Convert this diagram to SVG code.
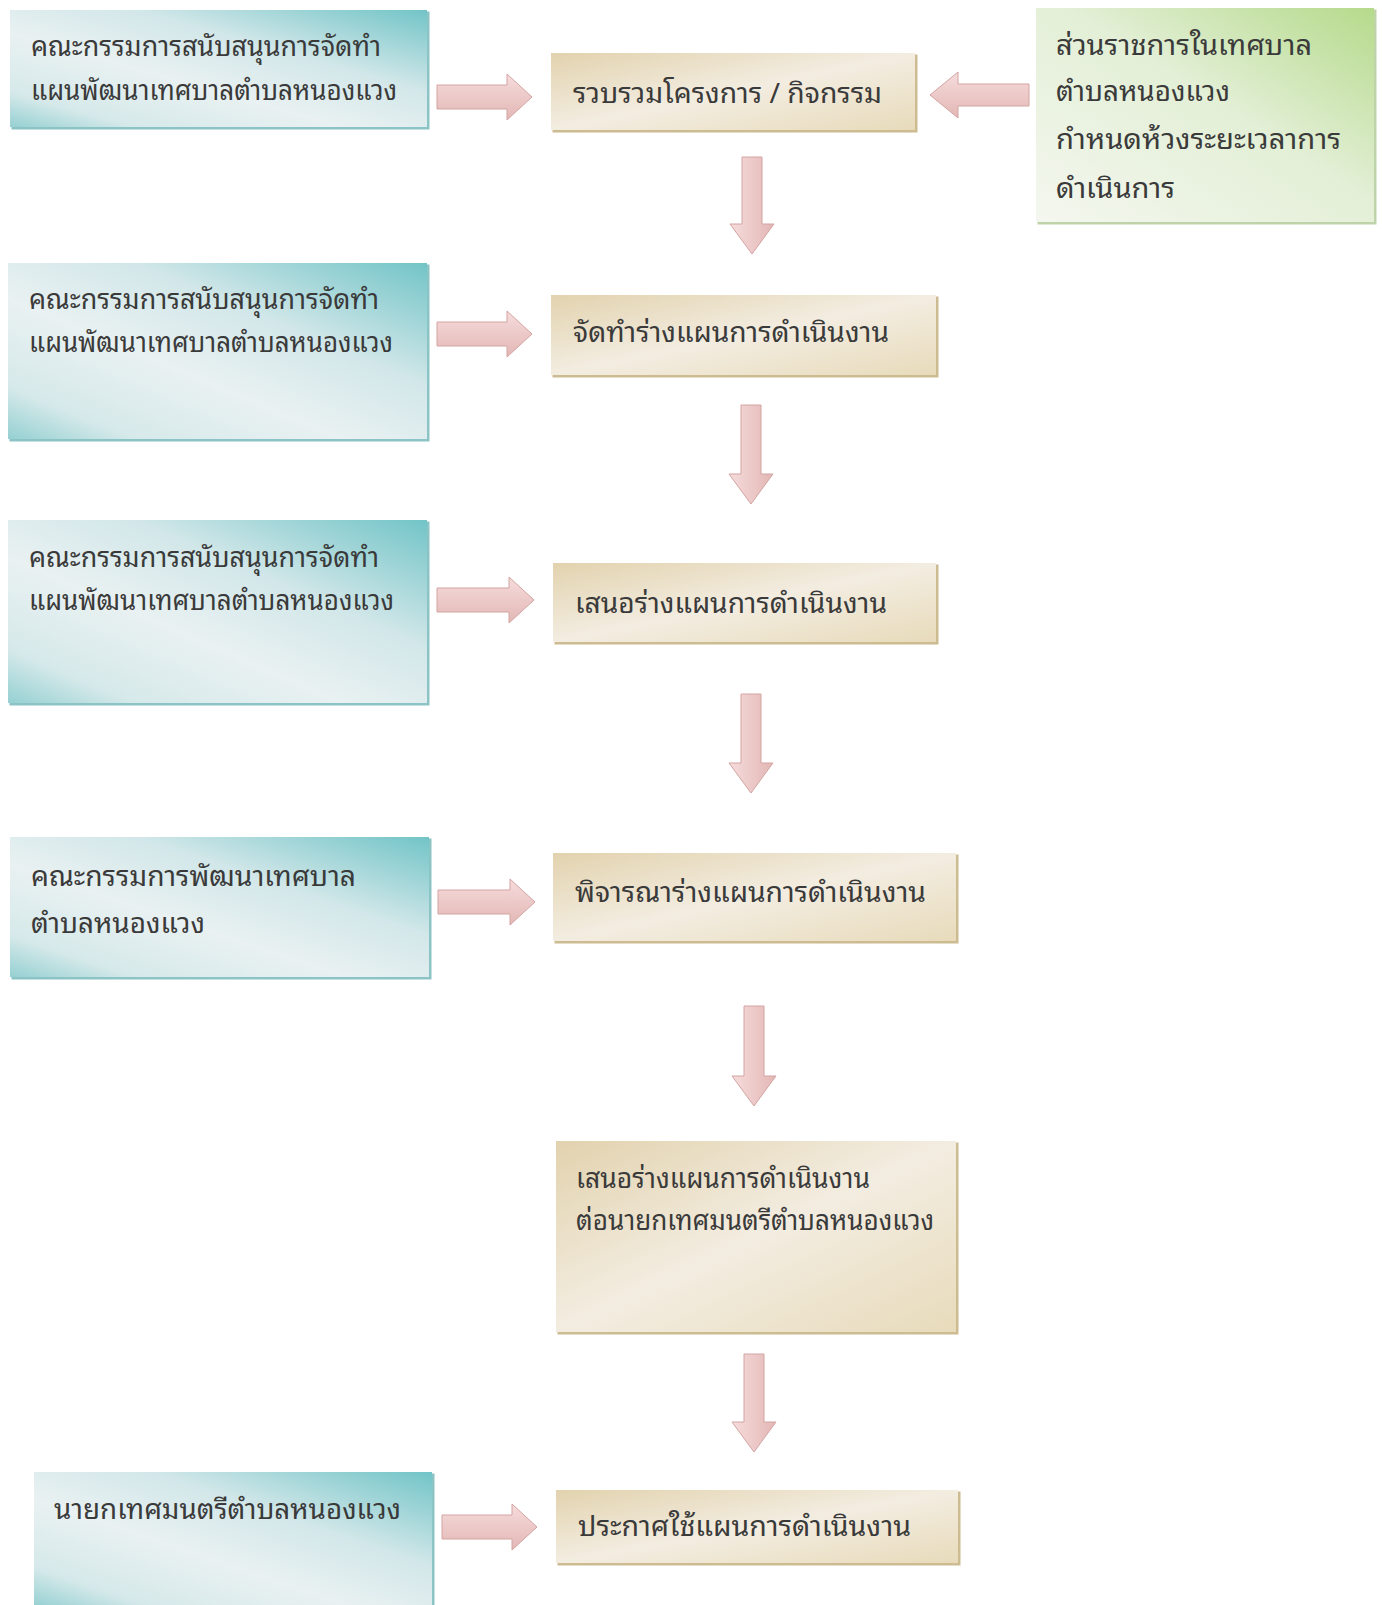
<svg xmlns="http://www.w3.org/2000/svg" width="1382" height="1605" viewBox="0 0 1382 1605">
<defs>
<linearGradient id="gBlue" x1="1" y1="0" x2="0" y2="1">
<stop offset="0" stop-color="#72c4c7"/>
<stop offset="0.35" stop-color="#d2e7e9"/>
<stop offset="0.6" stop-color="#e9f1f2"/>
<stop offset="0.85" stop-color="#d6e9ea"/>
<stop offset="1" stop-color="#95d0d2"/>
</linearGradient>
<linearGradient id="gTan" x1="0" y1="0" x2="1" y2="1">
<stop offset="0" stop-color="#e2d2ae"/>
<stop offset="0.5" stop-color="#f3ede1"/>
<stop offset="1" stop-color="#e8dbbb"/>
</linearGradient>
<linearGradient id="gGreen" x1="1" y1="0" x2="0" y2="1">
<stop offset="0" stop-color="#b5da8b"/>
<stop offset="0.45" stop-color="#e3efd6"/>
<stop offset="1" stop-color="#f4f7ef"/>
</linearGradient>
<linearGradient id="gArrowH" x1="0" y1="0" x2="0" y2="1">
<stop offset="0" stop-color="#f6dcdc"/>
<stop offset="1" stop-color="#e2b7b5"/>
</linearGradient>
<linearGradient id="gArrowV" x1="0" y1="0" x2="1" y2="0">
<stop offset="0" stop-color="#f6dcdc"/>
<stop offset="1" stop-color="#e2b7b5"/>
</linearGradient>
</defs>
<style>
.blue{fill:url(#gBlue)}
.tan{fill:url(#gTan)}
.green{fill:url(#gGreen)}
.shB{fill:#8cc4c6}
.shT{fill:#cdbb92}
.shG{fill:#bfd3aa}
.t{font-family:"Noto Sans Thai Looped","Noto Sans Thai","Noto Sans","Liberation Sans",sans-serif;font-size:28px;fill:#3a3a3a}
.ah{fill:url(#gArrowH);stroke:#d3a4a2;stroke-width:1}
.av{fill:url(#gArrowV);stroke:#d3a4a2;stroke-width:1}
</style>
<rect width="1382" height="1605" fill="#ffffff"/>

<g id="connectors">
<path class="ah" d="M437,85 H507 V74 L532,97 L507,120 V109 H437 Z"/>
<path class="ah" d="M1029,84 H958 V72 L930,95 L958,118 V106 H1029 Z"/>
<path class="av" d="M742,157 V224 H730 L752,254 L774,224 H762 V157 Z"/>
<path class="ah" d="M437,322 H507 V311 L532,334 L507,357 V346 H437 Z"/>
<path class="av" d="M741,405 V474 H729 L751,504 L773,474 H761 V405 Z"/>
<path class="ah" d="M437,588 H509 V577 L534,600 L509,623 V612 H437 Z"/>
<path class="av" d="M741,694 V763 H729 L751,793 L773,763 H761 V694 Z"/>
<path class="ah" d="M438,890 H510 V879 L535,902 L510,925 V914 H438 Z"/>
<path class="av" d="M744,1006 V1076 H732 L754,1106 L776,1076 H764 V1006 Z"/>
<path class="av" d="M744,1354 V1422 H732 L754,1452 L776,1422 H764 V1354 Z"/>
<path class="ah" d="M442,1515 H512 V1504 L537,1527 L512,1550 V1539 H442 Z"/>
</g>

<g id="nodeA1">
<rect class="shB" x="11.5" y="11.5" width="418" height="118"/>
<rect class="blue" x="10" y="10" width="417" height="117"/>
<text class="t" x="31" y="56" textLength="350" lengthAdjust="spacingAndGlyphs">คณะกรรมการสนับสนุนการจัดทำ</text>
<text class="t" x="31" y="100" textLength="366" lengthAdjust="spacingAndGlyphs">แผนพัฒนาเทศบาลตำบลหนองแวง</text>
</g>

<g id="nodeB1">
<rect class="shT" x="552.5" y="54.5" width="365" height="78"/>
<rect class="tan" x="551" y="53" width="364" height="77"/>
<text class="t" x="573" y="103" textLength="309" lengthAdjust="spacingAndGlyphs">รวบรวมโครงการ / กิจกรรม</text>
</g>

<g id="nodeG">
<rect class="shG" x="1037.5" y="9.5" width="339" height="215"/>
<rect class="green" x="1036" y="8" width="338" height="214"/>
<text class="t" x="1056" y="55" textLength="256" lengthAdjust="spacingAndGlyphs">ส่วนราชการในเทศบาล</text>
<text class="t" x="1056" y="101" textLength="174" lengthAdjust="spacingAndGlyphs">ตำบลหนองแวง</text>
<text class="t" x="1056" y="149" textLength="285" lengthAdjust="spacingAndGlyphs">กำหนดห้วงระยะเวลาการ</text>
<text class="t" x="1056" y="198" textLength="119" lengthAdjust="spacingAndGlyphs">ดำเนินการ</text>
</g>

<g id="nodeA2">
<rect class="shB" x="9.5" y="264.5" width="420" height="177"/>
<rect class="blue" x="8" y="263" width="419" height="176"/>
<text class="t" x="29" y="309" textLength="350" lengthAdjust="spacingAndGlyphs">คณะกรรมการสนับสนุนการจัดทำ</text>
<text class="t" x="29" y="352" textLength="364" lengthAdjust="spacingAndGlyphs">แผนพัฒนาเทศบาลตำบลหนองแวง</text>
</g>

<g id="nodeB2">
<rect class="shT" x="552.5" y="296.5" width="386" height="81"/>
<rect class="tan" x="551" y="295" width="385" height="80"/>
<text class="t" x="573" y="342" textLength="316" lengthAdjust="spacingAndGlyphs">จัดทำร่างแผนการดำเนินงาน</text>
</g>

<g id="nodeA3">
<rect class="shB" x="9.5" y="521.5" width="420" height="184"/>
<rect class="blue" x="8" y="520" width="419" height="183"/>
<text class="t" x="29" y="567" textLength="350" lengthAdjust="spacingAndGlyphs">คณะกรรมการสนับสนุนการจัดทำ</text>
<text class="t" x="29" y="610" textLength="365" lengthAdjust="spacingAndGlyphs">แผนพัฒนาเทศบาลตำบลหนองแวง</text>
</g>

<g id="nodeB3">
<rect class="shT" x="554.5" y="564.5" width="384" height="80"/>
<rect class="tan" x="553" y="563" width="383" height="79"/>
<text class="t" x="575" y="613" textLength="312" lengthAdjust="spacingAndGlyphs">เสนอร่างแผนการดำเนินงาน</text>
</g>

<g id="nodeA4">
<rect class="shB" x="11.5" y="838.5" width="420" height="141"/>
<rect class="blue" x="10" y="837" width="419" height="140"/>
<text class="t" x="31" y="886" textLength="325" lengthAdjust="spacingAndGlyphs">คณะกรรมการพัฒนาเทศบาล</text>
<text class="t" x="31" y="933" textLength="174" lengthAdjust="spacingAndGlyphs">ตำบลหนองแวง</text>
</g>

<g id="nodeB4">
<rect class="shT" x="554.5" y="854.5" width="404" height="89"/>
<rect class="tan" x="553" y="853" width="403" height="88"/>
<text class="t" x="575" y="902" textLength="351" lengthAdjust="spacingAndGlyphs">พิจารณาร่างแผนการดำเนินงาน</text>
</g>

<g id="nodeB5">
<rect class="shT" x="557.5" y="1142.5" width="401" height="192"/>
<rect class="tan" x="556" y="1141" width="400" height="191"/>
<text class="t" x="576" y="1188" textLength="294" lengthAdjust="spacingAndGlyphs">เสนอร่างแผนการดำเนินงาน</text>
<text class="t" x="576" y="1230" textLength="358" lengthAdjust="spacingAndGlyphs">ต่อนายกเทศมนตรีตำบลหนองแวง</text>
</g>

<g id="nodeA5">
<rect class="shB" x="35.5" y="1473.5" width="399" height="135"/>
<rect class="blue" x="34" y="1472" width="398" height="135"/>
<text class="t" x="54" y="1519" textLength="347" lengthAdjust="spacingAndGlyphs">นายกเทศมนตรีตำบลหนองแวง</text>
</g>

<g id="nodeB6">
<rect class="shT" x="557.5" y="1491.5" width="403" height="74"/>
<rect class="tan" x="556" y="1490" width="402" height="73"/>
<text class="t" x="578" y="1536" textLength="333" lengthAdjust="spacingAndGlyphs">ประกาศใช้แผนการดำเนินงาน</text>
</g>
</svg>
